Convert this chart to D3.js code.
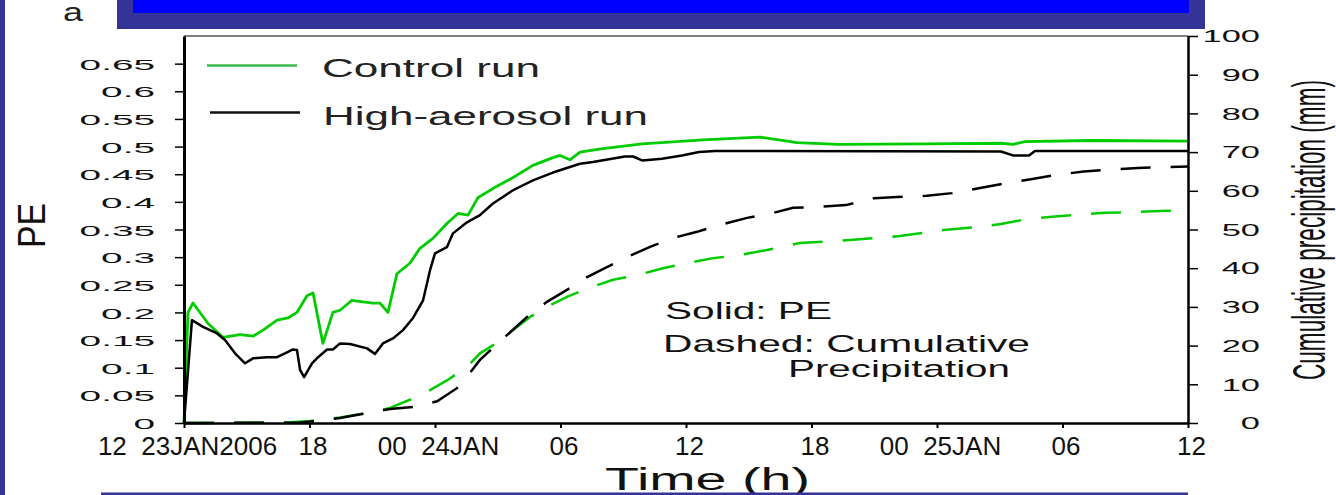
<!DOCTYPE html>
<html>
<head>
<meta charset="utf-8">
<script src="https://cdn.jsdelivr.net/npm/d3@7"></script>
<style>
  body { margin: 0; background: #fff; }
  svg { display: block; font-family: "Liberation Sans", Arial, sans-serif; }
</style>
</head>
<body>
<svg id="chart" width="1336" height="495"></svg>
<script>
// hours after 12Z 23 Jan 2006, value
const controlPE = [
  [0, 0], [0.19, 0.2], [0.43, 0.217], [1.15, 0.18], [1.86, 0.155], [2.68, 0.16], [3.3, 0.157],
  [3.78, 0.168], [4.45, 0.186], [4.97, 0.19], [5.4, 0.2], [5.88, 0.23], [6.17, 0.235], [6.64, 0.144],
  [7.12, 0.2], [7.46, 0.204], [8.03, 0.222], [8.56, 0.219], [9.03, 0.217], [9.37, 0.217], [9.75, 0.2],
  [10.18, 0.27], [10.8, 0.289], [11.28, 0.316], [11.9, 0.334], [12.57, 0.361], [13.1, 0.379],
  [13.58, 0.376], [14.06, 0.408], [14.77, 0.424], [15.73, 0.444], [16.68, 0.466], [17.64, 0.48],
  [17.98, 0.484], [18.45, 0.476], [18.93, 0.49], [19.94, 0.496], [21.9, 0.505], [24.81, 0.512],
  [27.54, 0.517], [28.11, 0.514], [29.31, 0.507], [31.27, 0.504], [35.52, 0.505], [39.06, 0.506],
  [39.63, 0.504], [40.21, 0.509], [43.36, 0.511], [48, 0.51]
];
const aerosolPE = [
  [0, 0], [0.38, 0.186], [0.91, 0.174], [1.58, 0.162], [1.96, 0.15], [2.44, 0.126], [2.92, 0.108],
  [3.3, 0.117], [3.97, 0.119], [4.45, 0.119], [4.83, 0.126], [5.21, 0.133], [5.4, 0.132], [5.55, 0.096],
  [5.74, 0.083], [6.12, 0.108], [6.41, 0.119], [6.84, 0.133], [7.12, 0.133], [7.46, 0.144], [7.94, 0.143],
  [8.75, 0.135], [9.13, 0.125], [9.51, 0.144], [9.99, 0.153], [10.47, 0.168], [10.95, 0.19], [11.43, 0.222],
  [11.76, 0.276], [12.0, 0.307], [12.57, 0.318], [12.86, 0.343], [13.53, 0.363], [14.15, 0.376],
  [14.77, 0.397], [15.73, 0.421], [16.68, 0.439], [17.64, 0.453], [18.93, 0.469], [19.55, 0.472],
  [21.08, 0.482], [21.47, 0.482], [21.9, 0.475], [22.85, 0.478], [23.81, 0.484], [24.62, 0.49],
  [25.39, 0.492], [39.06, 0.491], [39.63, 0.484], [40.4, 0.484], [40.68, 0.492], [48, 0.492]
];
const controlPrecip = [
  [0, 0], [5.07, 0.2], [6.02, 0.5], [7.46, 1.4], [8.56, 2.4], [9.85, 3.9], [10.8, 6], [11.76, 8.5],
  [12.57, 11], [13.53, 14.5], [14.15, 18], [14.96, 20.7], [15.73, 24], [16.54, 27.4], [17.35, 30],
  [18.31, 32.6], [19.41, 35], [20.51, 37], [21.66, 38.2], [22.9, 40], [24.05, 41.3], [25.29, 42.6],
  [26.58, 43.4], [27.87, 44.7], [29.45, 46.5], [31.84, 47.3], [34.23, 48.3], [36.33, 49.9],
  [37.86, 50.6], [39.06, 51.4], [40.3, 52.7], [41.5, 53.3], [42.93, 53.9], [44.03, 54.3],
  [45.47, 54.5], [46.66, 54.8], [48, 54.9]
];
const aerosolPrecip = [
  [0, 0], [5.55, 0.1], [6.5, 0.6], [7.46, 1.3], [8.56, 2.4], [9.85, 3.6], [11.04, 4.2], [12.1, 5.6],
  [13.05, 9], [13.53, 12], [14.15, 16.3], [14.77, 19.4], [15.44, 22.7], [16.4, 27.4], [17.35, 31.3],
  [18.31, 34.4], [19.27, 37.7], [20.22, 40.3], [21.18, 42.9], [22.28, 45.5], [23.38, 47.8],
  [24.53, 49.4], [25.63, 51.2], [26.92, 53], [28.11, 54.2], [29.12, 55.6], [30.45, 55.9],
  [31.65, 56.3], [32.99, 58.1], [34.09, 58.4], [35.52, 58.7], [36.72, 59.4], [38.06, 60.7],
  [39.15, 61.8], [40.49, 63], [41.59, 64], [43.02, 65], [44.12, 65.4], [45.6, 65.9], [46.75, 66.1],
  [48, 66.3]
];

const timeTicks = [0, 6, 12, 18, 24, 30, 36, 42, 48];
const timeLabels = ["12  23JAN2006", "18", "00  24JAN", "06", "12", "18", "00  25JAN", "06", "12"];
const peTicks = [0, 0.05, 0.1, 0.15, 0.2, 0.25, 0.3, 0.35, 0.4, 0.45, 0.5, 0.55, 0.6, 0.65];
const peLabels = ["0", "0.05", "0.1", "0.15", "0.2", "0.25", "0.3", "0.35", "0.4", "0.45", "0.5", "0.55", "0.6", "0.65"];
const precipTicks = [0, 10, 20, 30, 40, 50, 60, 70, 80, 90, 100];

const svg = d3.select("#chart");
const plotL = 184, plotR = 1188, plotT = 36, plotB = 423;
const GREEN = "#00cc00";
const FRAME = "#353399";

const x = d3.scaleLinear().domain([0, 48]).range([plotL, plotR]);
const yPE = d3.scaleLinear().domain([0, 0.7]).range([plotB, plotT]);
const yPr = d3.scaleLinear().domain([0, 100]).range([plotB, plotT]);

function fit(sel, w) {
  sel.attr("textLength", w).attr("lengthAdjust", "spacingAndGlyphs");
}
function stretch(sel, k) {
  sel.each(function () {
    const n = this.getComputedTextLength();
    d3.select(this).attr("textLength", n * k).attr("lengthAdjust", "spacingAndGlyphs");
  });
}

// slide frame
svg.append("rect").attr("x", 0).attr("y", 0).attr("width", 5).attr("height", 495).attr("fill", FRAME);
svg.append("rect").attr("x", 117).attr("y", 0).attr("width", 1088).attr("height", 29).attr("fill", FRAME);
svg.append("rect").attr("x", 133).attr("y", 0).attr("width", 1056).attr("height", 13).attr("fill", "#0000ff");

svg.append("text").attr("x", 63).attr("y", 21).attr("font-size", 26).attr("fill", "#222").text("a")
  .call(fit, 20);

// plot box top
svg.append("line").attr("x1", plotL).attr("x2", plotR).attr("y1", plotT).attr("y2", plotT)
  .attr("stroke", "#555").attr("stroke-width", 1.5);

// lines
const line = yScale => d3.line().x(d => x(d[0])).y(d => yScale(d[1]));

svg.append("path").datum(controlPrecip).attr("d", line(yPr)).attr("fill", "none")
  .attr("stroke", GREEN).attr("stroke-width", 2.5).attr("stroke-dasharray", "30,20");
svg.append("path").datum(aerosolPrecip).attr("d", line(yPr)).attr("fill", "none")
  .attr("stroke", "#000").attr("stroke-width", 2.5).attr("stroke-dasharray", "30,20");
svg.append("path").datum(controlPE).attr("d", line(yPE)).attr("fill", "none")
  .attr("stroke", GREEN).attr("stroke-width", 2.8).attr("stroke-linejoin", "round");
svg.append("path").datum(aerosolPE).attr("d", line(yPE)).attr("fill", "none")
  .attr("stroke", "#000").attr("stroke-width", 2.5).attr("stroke-linejoin", "round");

// axes
const xAxis = svg.append("g").attr("transform", `translate(0,${plotB})`)
  .call(d3.axisBottom(x).tickValues(timeTicks).tickSize(5).tickSizeOuter(0)
    .tickFormat((d, i) => timeLabels[i]));
xAxis.select(".domain").attr("stroke-width", 2.5);
xAxis.selectAll(".tick line").attr("stroke-width", 2);
xAxis.selectAll(".tick text").attr("y", 32).attr("dy", 0).attr("dx", 3)
  .attr("font-size", 26).attr("fill", "#111").style("white-space", "pre").attr("font-family", "Liberation Sans");

const yAxisL = svg.append("g").attr("transform", `translate(${plotL},0)`)
  .call(d3.axisLeft(yPE).tickValues(peTicks).tickSize(9).tickSizeOuter(0)
    .tickFormat((d, i) => peLabels[i]));
yAxisL.select(".domain").attr("stroke-width", 3);
yAxisL.selectAll(".tick line").attr("stroke-width", 1.5);
yAxisL.selectAll(".tick text").attr("x", -29).attr("dy", "0.36em")
  .attr("font-size", 15.5).attr("fill", "#111").attr("font-family", "Liberation Sans")
  .call(stretch, 2.5);

const yAxisR = svg.append("g").attr("transform", `translate(${plotR},0)`)
  .call(d3.axisRight(yPr).tickValues(precipTicks).tickSize(10).tickSizeOuter(0));
yAxisR.select(".domain").attr("stroke-width", 2.5);
yAxisR.selectAll(".tick line").attr("stroke-width", 1.5);
yAxisR.selectAll(".tick text").attr("x", 72).attr("dy", "0.36em").attr("text-anchor", "end")
  .attr("font-size", 16).attr("fill", "#111").attr("font-family", "Liberation Sans")
  .call(stretch, 2.15);

// axis titles
svg.append("text").attr("transform", "translate(45,225.5) rotate(-90)").attr("text-anchor", "middle")
  .attr("font-size", 38).attr("fill", "#111").text("PE").call(fit, 45);
svg.append("text").attr("transform", "translate(1325,230) rotate(-90)").attr("text-anchor", "middle")
  .attr("font-size", 46).attr("fill", "#111").text("Cumulative precipitation (mm)").call(fit, 300);
svg.append("text").attr("x", 605).attr("y", 490).attr("font-size", 31).attr("fill", "#111")
  .text("Time (h)").call(fit, 205);

// legend
svg.append("line").attr("x1", 207).attr("x2", 297).attr("y1", 65.5).attr("y2", 65.5)
  .attr("stroke", "#3cb850").attr("stroke-width", 2.5);
svg.append("line").attr("x1", 210).attr("x2", 300).attr("y1", 112.5).attr("y2", 112.5)
  .attr("stroke", "#111").attr("stroke-width", 2.5);
svg.append("text").attr("x", 322).attr("y", 76.5).attr("font-size", 25).attr("fill", "#222")
  .text("Control run").call(fit, 218);
svg.append("text").attr("x", 323).attr("y", 125).attr("font-size", 26).attr("fill", "#222")
  .text("High-aerosol run").call(fit, 325);

// annotation
svg.append("text").attr("x", 665).attr("y", 319).attr("font-size", 24).attr("fill", "#111")
  .text("Solid: PE").call(fit, 167);
svg.append("text").attr("x", 663).attr("y", 352).attr("font-size", 24).attr("fill", "#111")
  .text("Dashed: Cumulative").call(fit, 367);
svg.append("text").attr("x", 788).attr("y", 377).attr("font-size", 24).attr("fill", "#111")
  .text("Precipitation").call(fit, 222);

// bottom rule
svg.append("rect").attr("x", 101).attr("y", 492.5).attr("width", 1087).attr("height", 3).attr("fill", FRAME);
</script>
</body>
</html>
